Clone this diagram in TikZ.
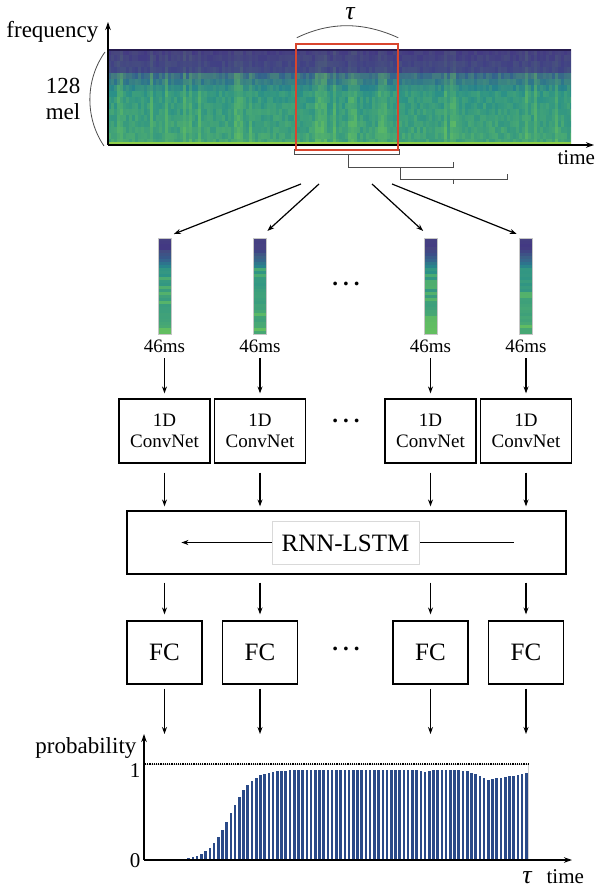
\documentclass[tikz,border=0pt]{standalone}
\usepackage{fontspec}
\setmainfont{Liberation Serif}
\usepackage{xcolor}
\usepackage{tikz}
\usetikzlibrary{arrows.meta,positioning,calc}

\definecolor{vnavy}{HTML}{261B4F}
\definecolor{vindigo}{HTML}{433983}
\definecolor{vblue}{HTML}{33638D}
\definecolor{vteal}{HTML}{238A8D}
\definecolor{vlight}{HTML}{7AD151}
\definecolor{vyellow}{HTML}{8FCF4A}
\definecolor{winred}{HTML}{D8452E}
\definecolor{barblue}{HTML}{2A4A88}

\begin{document}
\begin{tikzpicture}[x=1pt, y=-1pt, line width=1.2pt]
\tikzset{
  txt/.style  ={font=\fontsize{23}{26}\selectfont, inner sep=0pt},
  stxt/.style ={font=\fontsize{19}{22}\selectfont, inner sep=0pt},
  axl/.style  ={font=\fontsize{21}{24}\selectfont, inner sep=0pt},
  taut/.style ={font=\fontsize{26}{28}\selectfont\itshape, inner sep=0pt},
  dots/.style ={font=\fontsize{23}{26}\selectfont\bfseries, inner sep=0pt},
  colbox/.style={draw=gray!45, line width=0.6pt, minimum width=13pt, minimum height=96pt, inner sep=0pt},
  cnn/.style  ={draw, align=center, minimum width=91pt, minimum height=64pt,
                font=\fontsize{19}{21}\selectfont, inner sep=0pt},
  fcbox/.style={draw, minimum width=75pt, minimum height=63pt,
                font=\fontsize{25}{28}\selectfont, inner sep=0pt},
  aD/.style={-{Stealth[length=7pt,width=5pt]}},
  ax/.style={-{Stealth[length=8pt,width=5.5pt]}},
  bra/.style={line width=0.8pt, black!70}
}
\useasboundingbox (0,0) rectangle (596,890);

% mel spectrogram
\begin{scope}
\clip (108,49) rectangle (571,145);
\pgfmathsetseed{7}
\foreach \j in {0,...,154}{
  \pgfmathsetmacro{\cb}{rnd<0.18 ? 22 : 0}
  \foreach \k in {0,...,15}{
    \pgfmathtruncatemacro{\p}{\k<4 ? 8*\k : (\k<7 ? 40*(\k-4) : 0)}
    \ifnum\k<4 \colorlet{rowc}{vblue!\p!vindigo}\else\ifnum\k<7 \colorlet{rowc}{vteal!\p!vblue}\else\colorlet{rowc}{vteal}\fi\fi
    \pgfmathtruncatemacro{\q}{\k<4 ? rnd*10+0.3*\cb : min(85, rnd*25+\cb+(\k>6 ? 2*(\k-7)+8 : 0))}
    \fill[vlight!\q!rowc] ({108+3*\j},{49+6*\k}) rectangle ++(3.2,6.2);
  }
}
\fill[vyellow] (108,142) rectangle (571,145);
\fill[vnavy] (108,49) rectangle (571,51);
\end{scope}

\coordinate (sO) at (108,145);
\coordinate (sY) at (108,22);
\coordinate (sX) at (594,145);
\draw[ax] (sO) -- (sY);
\draw[ax] (sO) -- (sX);
\node[txt, anchor=base east] (freq) at (99,38) {frequency};
\node[txt, align=center] (mel) at (63,99) {128\\mel};
\node[axl, anchor=base west] (tx) at (557,165) {time};
\draw[bra] (105,52) .. controls (85,80) and (85,118) .. (104,146);

\node[draw=winred, line width=2.5pt, minimum width=102pt, minimum height=106pt, inner sep=0pt] (win) at (347,97) {};
\draw[bra] ([shift={(2,-5)}]win.north west) .. controls (330,21.7) and (363,21.7) .. ([shift={(-1,-5)}]win.north east);
\node[taut] (tau) at (350,14) {τ};

\draw[bra] (294,149) -- (294,154) -- (399,154) -- (399,149) (348,154) -- (348,160);
\draw[bra] (348,160) -- (348,167) -- (453,167) -- (453,162) (400,167) -- (400,172);
\draw[bra] (400,172) -- (400,179) -- (507,179) -- (507,174) (453,179) -- (453,184);

\coordinate (f1) at (301,184);
\coordinate (f2) at (319,184);
\coordinate (f3) at (372,184);
\coordinate (f4) at (392,184);

\node[draw, minimum width=439pt, minimum height=63pt] (rnn) at (346.5,542.5) {};
\draw[aD] ([xshift=-53pt]rnn.east) -- ([xshift=55pt]rnn.west);
\node[draw=gray!30, fill=white, line width=0.8pt, minimum width=147pt, minimum height=43pt,
      font=\fontsize{25}{28}\selectfont] (lstm) at (345.5,543) {RNN-LSTM};

\foreach \i/\x in {1/164.5, 2/260, 3/430.5, 4/526}{
  \foreach \k in {0,...,31}{
    \pgfmathtruncatemacro{\p}{\k<3 ? 0 : (\k<7 ? 25*(\k-3) : (\k<10 ? 40*(\k-7) : 0))}
    \ifnum\k<7 \colorlet{rowc}{vblue!\p!vindigo}\else\ifnum\k<10 \colorlet{rowc}{vteal!\p!vblue}\else\colorlet{rowc}{vteal}\fi\fi
    \pgfmathtruncatemacro{\q}{\k<10 ? rnd*8 : min(85, 8+1.5*(\k-10)+(rnd<0.3 ? 35 : rnd*12))}
    \fill[vlight!\q!rowc] ({\x-6.5},{238+3*\k}) rectangle ++(13,3.1);
  }
  \node[colbox] (col\i) at (\x,286) {};
  \draw[aD, shorten >=10pt] (f\i) -- (col\i.north);
  \node[stxt, below=5pt of col\i] (ms\i) {46ms};
  \node[cnn] (cnn\i) at (\x,431) {1D\\ConvNet};
  \node[fcbox] (fc\i) at (\x,652.5) {FC};
  \coordinate (p\i) at (\x,734);
  \draw[aD, shorten <=5pt, shorten >=5pt] (ms\i) -- (cnn\i);
  \draw[aD, shorten <=9pt, shorten >=4pt] (cnn\i) -- (cnn\i |- rnn.north);
  \draw[aD, shorten <=8pt, shorten >=6pt] (fc\i |- rnn.south) -- (fc\i);
  \draw[aD, shorten <=4pt] (fc\i) -- (p\i);
}
\node[dots] (d1) at (346,284) {.\hspace{5pt}.\hspace{5pt}.};
\node[dots] (d2) at (346,421) {.\hspace{5pt}.\hspace{5pt}.};
\node[dots] (d3) at (346,649) {.\hspace{5pt}.\hspace{5pt}.};

% output probabilities
\draw[gray!35, line width=0.8pt] (144,764) rectangle (528,860);
\foreach \b in {0,...,90}{
  \pgfmathsetmacro{\bx}{146.5+4.22*\b}
  \pgfmathsetmacro{\hs}{0.9375/(1+exp(max(-9,min(9,-(\bx-230)/11))))}
  \pgfmathsetmacro{\hd}{(\bx<490 ? 0.1*exp(max(-9,-((\bx-490)/16)^2)) : 0.1-0.0018*(\bx-490)) + 0.02*exp(max(-9,-((\bx-426)/6)^2))}
  \fill[barblue] ({\bx-1.3},860) rectangle ({\bx+1.3},{860-96*(\hs-\hd)});
}
\draw[densely dotted, line width=1.2pt] (145,764) -- (528,764);
\coordinate (pO) at (144,860);
\coordinate (pY) at (144,734);
\coordinate (pX) at (572,860);
\draw[ax] (pO) -- (pY);
\draw[ax] (pO) -- (pX);
\node[txt, anchor=base east] (prob) at (137,753) {probability};
\node[axl, anchor=base east] (one) at (141,777) {1};
\node[axl, anchor=base east] (zero) at (141,867) {0};
\node[taut, anchor=base] (tau2) at (527,883) {τ};
\node[axl, anchor=base west] (tx2) at (546,883) {time};
\end{tikzpicture}
\end{document}
